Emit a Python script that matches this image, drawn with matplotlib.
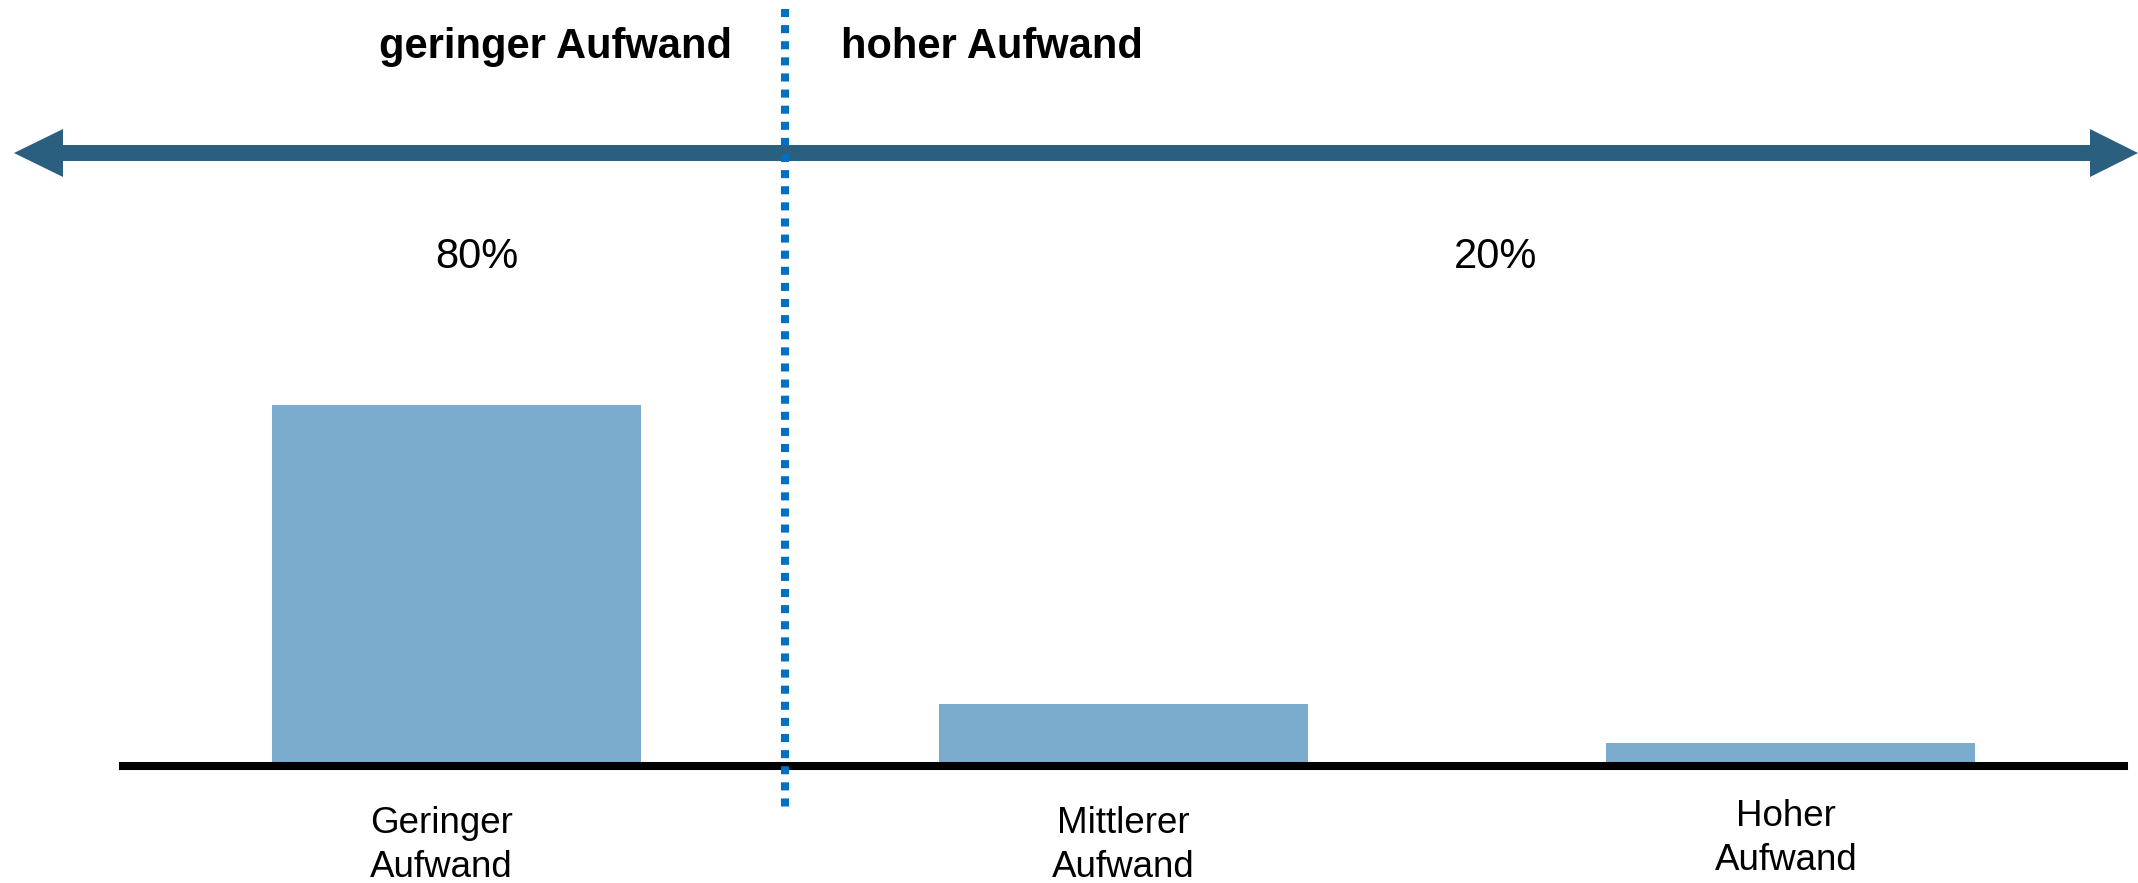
import matplotlib
matplotlib.use("Agg")
from matplotlib import pyplot as plt
from matplotlib.patches import Polygon

plt.rcParams['font.family'] = ['Liberation Sans', 'DejaVu Sans']

# effort groups and their share
categories = ["Geringer\nAufwand", "Mittlerer\nAufwand", "Hoher\nAufwand"]
shares = [82.2, 13.4, 4.4]
group_labels = ["geringer Aufwand", "hoher Aufwand"]
group_shares = ["80%", "20%"]

bar_color = '#7bacce'
arrow_color = '#2a5f80'
split_color = '#0070c0'

W, H = 2138, 883
fig = plt.figure(figsize=(W / 100, H / 100), dpi=100)

# bar axes
ax = fig.add_axes([123 / W, 121 / H, 2001 / W, 434 / H])
x = range(len(categories))
ax.bar(x, shares, width=0.554, color=bar_color, zorder=2)
ax.set_xlim(-0.5, 2.5)
ax.set_ylim(0, 100)
ax.set_yticks([])
ax.set_xticks([])
for s in ['top', 'left', 'right']:
    ax.spines[s].set_visible(False)
ax.spines['bottom'].set_position(('outward', 2.9))
ax.spines['bottom'].set_linewidth(5.8)
ax.spines['bottom'].set_color('black')
ax.patch.set_visible(False)

# category names under the bars, nudged a little (points)
label_nudge = [(-11, 0), (0, 0), (-3, 5)]
for i, (name, (dx, dy)) in enumerate(zip(categories, label_nudge)):
    ax.annotate(name, xy=(i, 0), xycoords=('data', 'axes fraction'),
                xytext=(dx, -32 + dy), textcoords='offset points',
                ha='center', va='top', fontsize=26.5, linespacing=1.3,
                annotation_clip=False)

# overlay in pixel units for the arrow, divider and headings
ov = fig.add_axes([0, 0, 1, 1])
ov.set_xlim(0, W)
ov.set_ylim(H, 0)
ov.axis('off')

yc = 153
shaft = 8
head_w = 24
arrow = Polygon([(14, yc), (63, yc - head_w), (63, yc - shaft),
                 (2090, yc - shaft), (2090, yc - head_w), (2138, yc),
                 (2090, yc + head_w), (2090, yc + shaft), (63, yc + shaft),
                 (63, yc + head_w)], closed=True, color=arrow_color, lw=0)
ov.add_patch(arrow)

ov.plot([785, 785], [9, 808], color=split_color, lw=5.8,
        linestyle=(0, (1, 1)), solid_capstyle='butt', dash_capstyle='butt')

ov.text(732, 47, group_labels[0], fontsize=30, fontweight='bold',
        ha='right', va='center')
ov.text(841, 47, group_labels[1], fontsize=30, fontweight='bold',
        ha='left', va='center')
ov.text(477, 257, group_shares[0], fontsize=30, ha='center', va='center')
ov.text(1496, 257, group_shares[1], fontsize=30, ha='center', va='center')

fig.savefig("out.png", dpi=100)
